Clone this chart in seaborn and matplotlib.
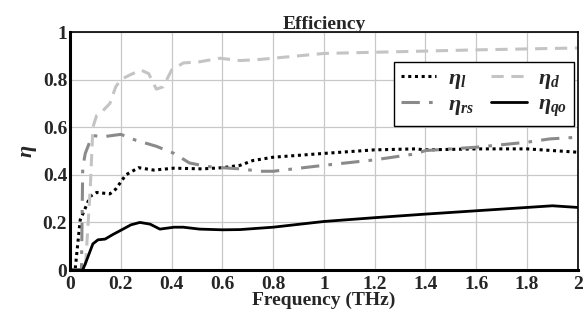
import numpy as np
import matplotlib
matplotlib.use("Agg")
import matplotlib.pyplot as plt
import pandas as pd
import seaborn as sns

# efficiency curves (frequency in THz)
f_l = [0, 0.02, 0.04, 0.06, 0.08, 0.105, 0.157, 0.18, 0.22, 0.27, 0.33, 0.41, 0.52,
       0.6, 0.67, 0.72, 0.8, 1.0, 1.2, 1.36, 1.4, 1.6, 1.8, 2.0]
eta_l = [0, 0.0, 0.21, 0.26, 0.31, 0.326, 0.32, 0.34, 0.40, 0.43, 0.42, 0.428, 0.425,
         0.43, 0.44, 0.46, 0.474, 0.49, 0.505, 0.509, 0.505, 0.509, 0.509, 0.495]

f_d = [0, 0.06, 0.08, 0.09, 0.105, 0.13, 0.157, 0.18, 0.2, 0.236, 0.28, 0.31, 0.34,
       0.367, 0.4, 0.446, 0.51, 0.59, 0.67, 0.75, 0.8, 1.0, 1.2, 1.4, 1.6, 2.0]
eta_d = [0, 0.0, 0.35, 0.6, 0.65, 0.67, 0.70, 0.77, 0.80, 0.82, 0.84, 0.825, 0.76,
         0.77, 0.84, 0.87, 0.875, 0.89, 0.88, 0.885, 0.89, 0.91, 0.915, 0.92, 0.925, 0.933]

f_rs = [0, 0.045, 0.05, 0.06, 0.08, 0.09, 0.13, 0.2, 0.26, 0.34, 0.41, 0.47, 0.54,
        0.6, 0.67, 0.75, 0.8, 1.0, 1.2, 1.36, 1.4, 1.6, 1.8, 1.89, 2.0]
eta_rs = [0, 0.0, 0.43, 0.49, 0.545, 0.565, 0.56, 0.57, 0.545, 0.52, 0.49, 0.45, 0.435,
          0.43, 0.425, 0.415, 0.415, 0.44, 0.463, 0.488, 0.502, 0.516, 0.537, 0.551, 0.558]

f_qo = [0, 0.05, 0.065, 0.09, 0.11, 0.138, 0.17, 0.2, 0.24, 0.275, 0.315, 0.354, 0.41,
        0.446, 0.51, 0.6, 0.67, 0.8, 1.0, 1.2, 1.4, 1.6, 1.8, 1.9, 2.0]
eta_qo = [0, 0.0, 0.04, 0.11, 0.127, 0.13, 0.15, 0.167, 0.19, 0.2, 0.193, 0.172, 0.18,
          0.18, 0.172, 0.169, 0.17, 0.18, 0.204, 0.22, 0.235, 0.249, 0.263, 0.27, 0.263]

x_ticks = [0, 0.2, 0.4, 0.6, 0.8, 1, 1.2, 1.4, 1.6, 1.8, 2]
x_labels = ["0", "0.2", "0.4", "0.6", "0.8", "1", "1.2", "1.4", "1.6", "1.8", "2"]
y_ticks = [0, 0.2, 0.4, 0.6, 0.8, 1]
y_labels = ["0", "0.2", "0.4", "0.6", "0.8", "1"]

sns.set_style("whitegrid")
plt.rcParams["font.family"] = ["Liberation Serif", "DejaVu Serif"]
plt.rcParams["font.weight"] = "bold"
plt.rcParams["mathtext.fontset"] = "custom"
plt.rcParams["mathtext.it"] = "Liberation Serif:italic:bold"
plt.rcParams["mathtext.rm"] = "Liberation Serif:bold"
plt.rcParams["mathtext.bf"] = "Liberation Serif:italic:bold"

fig = plt.figure(figsize=(5.86, 3.14), dpi=100)
ax = fig.add_axes([0.1195, 0.14, 0.8665, 0.758])

sns.lineplot(x=f_l, y=eta_l, ax=ax, color="black", lw=2.2, linestyle=(0, (1, 1.2)),
             label=r"$\eta_l$")
sns.lineplot(x=f_rs, y=eta_rs, ax=ax, color="#8a8a8a", lw=2.2,
             linestyle=(0, (6, 3, 1.2, 3)), label=r"$\eta_{rs}$")
sns.lineplot(x=f_d, y=eta_d, ax=ax, color="#c4c4c4", lw=2.2, linestyle=(0, (4, 2.5)),
             label=r"$\eta_d$")
sns.lineplot(x=f_qo, y=eta_qo, ax=ax, color="black", lw=2.0, linestyle="-",
             label=r"$\eta_{qo}$")

ax.set_xlim(0, 2)
ax.set_ylim(0, 1)
ax.set_xticks(x_ticks)
ax.set_xticklabels(x_labels, fontsize=14, fontweight="bold")
ax.set_yticks(y_ticks)
ax.set_yticklabels(y_labels, fontsize=14, fontweight="bold")
ax.tick_params(axis="x", length=0, pad=4)
ax.tick_params(axis="y", length=0, pad=2)
ax.grid(True, color="#c8c8c8", lw=0.9)

for side in ["left", "bottom"]:
    ax.spines[side].set_linewidth(2.2)
    ax.spines[side].set_color("black")
for side in ["top", "right"]:
    ax.spines[side].set_linewidth(1.2)
    ax.spines[side].set_color("black")

ax.set_title("Efficiency", fontsize=14, fontweight="bold", pad=2)
ax.set_xlabel("Frequency (THz)", fontsize=14, fontweight="bold", labelpad=-1)
ax.set_ylabel(r"$\eta$", fontsize=16, labelpad=3)

leg = ax.legend(ncol=2, loc="upper right", bbox_to_anchor=(0.992, 0.874),
                borderaxespad=0, fontsize=16, frameon=True, fancybox=False,
                edgecolor="black", handlelength=1.6, handletextpad=0.5,
                columnspacing=0.8, borderpad=0.3, labelspacing=0.15)
leg.get_frame().set_linewidth(1.0)
leg.get_frame().set_alpha(1)

fig.savefig("out.png", dpi=100)
